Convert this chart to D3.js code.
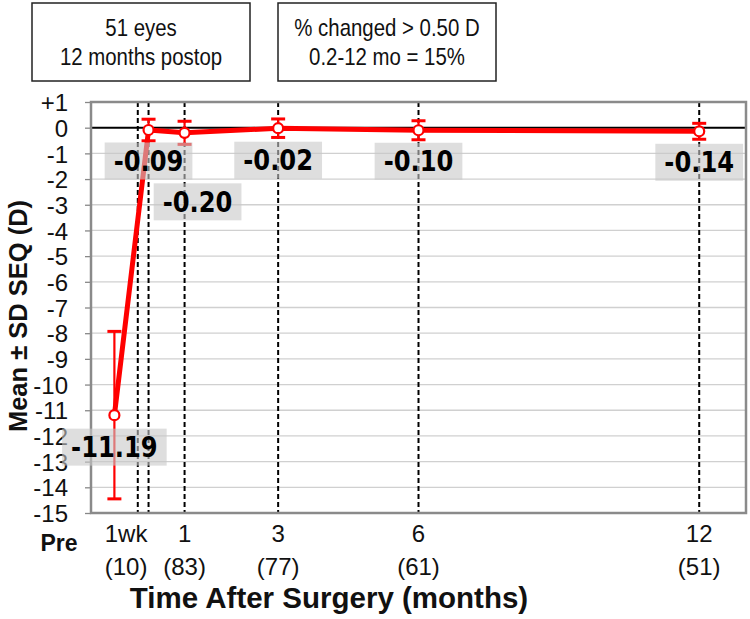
<!DOCTYPE html>
<html>
<head>
<meta charset="utf-8">
<script src="https://cdn.jsdelivr.net/npm/d3@7"></script>
<style>
  html, body { margin: 0; padding: 0; background: #fff; }
  svg { display: block; }
</style>
</head>
<body>
<svg id="chart" width="750" height="619"></svg>
<script>
// ---------------- data ----------------
const pointLabels = ["Pre", "1wk", "1", "3", "6", "12"];
const months = [-0.5, 0.23, 1, 3, 6, 12];           // time after surgery (months)
const means  = [-11.19, -0.09, -0.20, -0.02, -0.10, -0.14];
const sds    = [3.26, 0.42, 0.45, 0.36, 0.37, 0.31];

const visitLines = [0, 0.23, 1, 3, 6, 12];          // dashed reference lines (months)
const xTickLabels = ["1wk", "1", "3", "6", "12"];
const xTickAt     = [-0.25, 1, 3, 6, 12];
const xTickCounts = ["(10)", "(83)", "(77)", "(61)", "(51)"];

const yTicks = d3.range(-15, 2, 1);
const yDomain = [-15, 1];
const xDomain = [-1, 13];

const boxTexts = [
  ["51 eyes", "12 months postop"],
  ["% changed > 0.50 D", "0.2-12 mo = 15%"]
];

// ---------------- layout ----------------
const svg = d3.select("#chart");
const plot = { left: 91, right: 746, top: 102, bottom: 513 };

const x = d3.scaleLinear().domain(xDomain).range([plot.left, plot.right]);
const y = d3.scaleLinear().domain(yDomain).range([plot.bottom, plot.top]);

// gridlines
svg.append("g").selectAll("line").data(yTicks.filter(d => d !== 0 && d !== yDomain[0] && d !== yDomain[1]))
  .join("line")
  .attr("x1", plot.left).attr("x2", plot.right)
  .attr("y1", d => y(d)).attr("y2", d => y(d))
  .attr("stroke", "#d0d0d0").attr("stroke-width", 1.3);

// y axis ticks & labels via d3 axis
const yAxis = d3.axisLeft(y).tickValues(yTicks)
  .tickFormat(d => d > 0 ? "+" + d : (d < 0 ? "-" + Math.abs(d) : "0"))
  .tickSize(6).tickPadding(4);
const gy = svg.append("g").attr("transform", `translate(${plot.left},0)`).call(yAxis);
gy.select(".domain").remove();
gy.selectAll(".tick line").attr("stroke", "#888").attr("stroke-width", 1.3);
gy.selectAll(".tick text")
  .attr("font-family", "Liberation Sans, Arial, sans-serif")
  .attr("font-size", 24).attr("fill", "#111")
  .attr("x", -23).attr("dy", "0.36em");

// zero line
svg.append("line")
  .attr("x1", plot.left).attr("x2", plot.right)
  .attr("y1", y(0)).attr("y2", y(0))
  .attr("stroke", "#000").attr("stroke-width", 2);

// dashed visit lines
svg.append("g").selectAll("line").data(visitLines).join("line")
  .attr("x1", d => x(d)).attr("x2", d => x(d))
  .attr("y1", plot.top).attr("y2", plot.bottom)
  .attr("stroke", "#000").attr("stroke-width", 2)
  .attr("stroke-dasharray", "5,3");

// frame
svg.append("rect")
  .attr("x", plot.left).attr("y", plot.top)
  .attr("width", plot.right - plot.left).attr("height", plot.bottom - plot.top)
  .attr("fill", "none").attr("stroke", "#8a8a8a").attr("stroke-width", 2.5);

// x tick labels
const xt = svg.append("g").attr("font-family", "Liberation Sans, Arial, sans-serif")
  .attr("font-size", 24).attr("fill", "#111").attr("text-anchor", "middle");
xt.selectAll("text.l1").data(xTickLabels).join("text").attr("class", "l1")
  .attr("x", (d, i) => x(xTickAt[i])).attr("y", 542).text(d => d);
xt.selectAll("text.l2").data(xTickCounts).join("text").attr("class", "l2")
  .attr("x", (d, i) => x(xTickAt[i])).attr("y", 575).text(d => d);

svg.append("text").attr("x", 59).attr("y", 551)
  .attr("text-anchor", "middle")
  .attr("font-family", "Liberation Sans, Arial, sans-serif")
  .attr("font-weight", "bold").attr("font-size", 23).attr("fill", "#111")
  .text(pointLabels[0]);

// axis titles
svg.append("text").attr("x", 329).attr("y", 608)
  .attr("text-anchor", "middle")
  .attr("font-family", "Liberation Sans, Arial, sans-serif")
  .attr("font-weight", "bold").attr("font-size", 29.5).attr("fill", "#111")
  .text("Time After Surgery (months)");

svg.append("text")
  .attr("transform", "translate(27,316) rotate(-90)")
  .attr("text-anchor", "middle")
  .attr("font-family", "Liberation Sans, Arial, sans-serif")
  .attr("font-weight", "bold").attr("font-size", 25.5).attr("fill", "#111")
  .text("Mean \u00B1 SD SEQ (D)");

// series
const pts = months.map((m, i) => ({ m, v: means[i], sd: sds[i], i }));

svg.append("path").datum(pts)
  .attr("d", d3.line().x(d => x(d.m)).y(d => y(d.v)))
  .attr("fill", "none").attr("stroke", "#ff0000").attr("stroke-width", 5)
  .attr("stroke-linejoin", "round");

const eb = svg.append("g").attr("stroke", "#ff0000");
eb.selectAll("line.v").data(pts).join("line").attr("class", "v")
  .attr("x1", d => x(d.m)).attr("x2", d => x(d.m))
  .attr("y1", d => y(d.v + d.sd)).attr("y2", d => y(d.v - d.sd))
  .attr("stroke-width", 2.2);
eb.selectAll("line.t").data(pts).join("line").attr("class", "t")
  .attr("x1", d => x(d.m) - 7).attr("x2", d => x(d.m) + 7)
  .attr("y1", d => y(d.v + d.sd)).attr("y2", d => y(d.v + d.sd))
  .attr("stroke-width", 3);
eb.selectAll("line.b").data(pts).join("line").attr("class", "b")
  .attr("x1", d => x(d.m) - 7).attr("x2", d => x(d.m) + 7)
  .attr("y1", d => y(d.v - d.sd)).attr("y2", d => y(d.v - d.sd))
  .attr("stroke-width", 3);

svg.append("g").selectAll("circle").data(pts).join("circle")
  .attr("cx", d => x(d.m)).attr("cy", d => y(d.v)).attr("r", 5)
  .attr("fill", "#fff").attr("stroke", "#ff0000").attr("stroke-width", 2.2);

// data labels (semi-transparent boxes)
const labelOffset = [[0, 32], [0, 31], [13, 69], [0, 32], [0, 31], [0, 31]];
const sx = 0.88;
const lab = svg.append("g");
pts.forEach((d, i) => {
  const cx = x(d.m) + labelOffset[i][0];
  const cy = y(d.v) + labelOffset[i][1];
  const g = lab.append("g");
  const rect = g.append("rect");
  const t = g.append("text")
    .attr("transform", `translate(${cx},${cy + 10}) scale(${sx},1)`)
    .attr("text-anchor", "middle")
    .attr("font-family", "DejaVu Sans, Verdana, sans-serif")
    .attr("font-weight", "bold").attr("font-size", 27.5).attr("fill", "#000")
    .text(d.v.toFixed(2));
  const w = t.node().getBBox().width * sx + 18;
  rect.attr("x", cx - w / 2).attr("y", cy - 18.5)
    .attr("width", w).attr("height", 37)
    .attr("fill", "rgb(200,200,200)").attr("fill-opacity", 0.6);
});

// top annotation boxes
const boxX = [32, 278];
const bw = 218, bh = 78, by = 3;
boxTexts.forEach((lines, i) => {
  const g = svg.append("g");
  g.append("rect").attr("x", boxX[i]).attr("y", by).attr("width", bw).attr("height", bh)
    .attr("fill", "#fff").attr("stroke", "#222").attr("stroke-width", 1.5);
  lines.forEach((s, j) => {
    g.append("text")
      .attr("transform", `translate(${boxX[i] + bw / 2},${36 + j * 29}) scale(0.85,1)`)
      .attr("text-anchor", "middle")
      .attr("font-family", "Liberation Sans, Arial, sans-serif")
      .attr("font-size", 24).attr("fill", "#111")
      .text(s);
  });
});
</script>
</body>
</html>
